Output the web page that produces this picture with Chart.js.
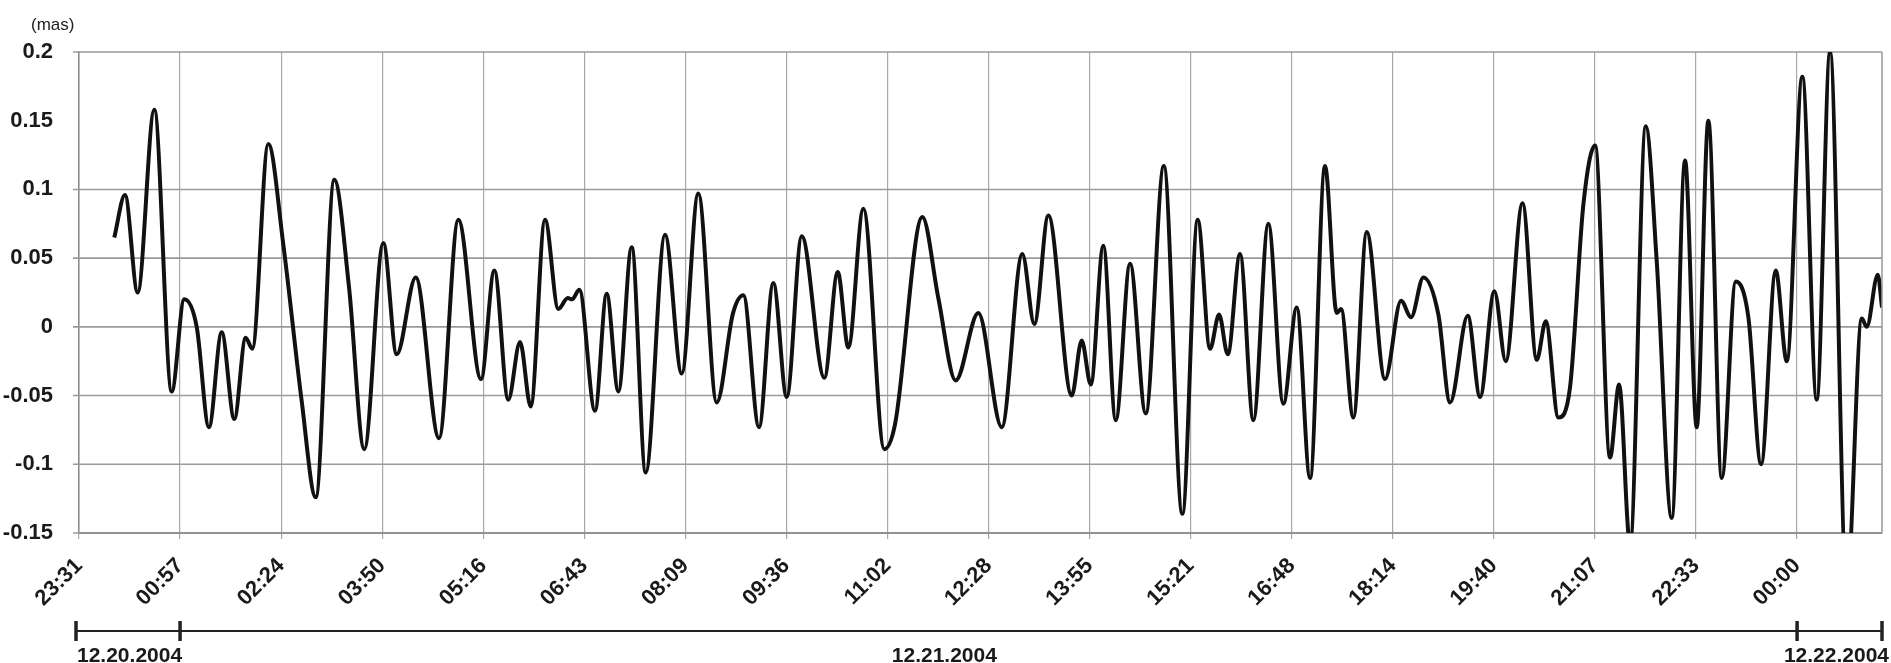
<!DOCTYPE html>
<html>
<head>
<meta charset="utf-8">
<script src="https://cdn.jsdelivr.net/npm/chart.js@4.4.1/dist/chart.umd.min.js"></script>
<style>
  html, body { margin: 0; padding: 0; background: #fff; }
  #wrap { width: 1891px; height: 663px; position: relative; }
</style>
</head>
<body>
<div id="wrap"><canvas id="polarChart"></canvas></div>
<script>
// hours since 23:31 on 12.20.2004 (one tick = 1.44 h)
const times = [
  0.503, 0.655, 0.836, 1.073, 1.321, 1.500, 1.677, 1.852, 2.033, 2.213,
  2.375, 2.469, 2.697, 2.911, 3.173, 3.373, 3.638, 3.847, 4.065, 4.336,
  4.527, 4.798, 5.130, 5.405, 5.728, 5.918, 6.117, 6.284, 6.436, 6.640,
  6.830, 6.964, 7.025, 7.129, 7.352, 7.519, 7.685, 7.875, 8.075, 8.350,
  8.588, 8.824, 9.087, 9.319, 9.466, 9.689, 9.893, 10.084, 10.298, 10.620,
  10.811, 10.962, 11.176, 11.475, 11.627, 12.016, 12.244, 12.492, 12.814, 13.148,
  13.441, 13.612, 13.812, 14.145, 14.287, 14.416, 14.595, 14.772, 14.976, 15.199,
  15.457, 15.721, 15.940, 16.116, 16.244, 16.368, 16.543, 16.733, 16.946, 17.160,
  17.351, 17.541, 17.754, 17.921, 17.982, 18.158, 18.348, 18.609, 18.837, 18.980,
  19.155, 19.369, 19.536, 19.788, 19.963, 20.167, 20.329, 20.568, 20.771, 20.899,
  21.079, 21.245, 21.435, 21.602, 21.815, 21.944, 22.100, 22.324, 22.480, 22.694,
  22.884, 23.050, 23.216, 23.407, 23.606, 23.786, 23.967, 24.176, 24.333, 24.555,
  24.760, 24.950, 25.188, 25.402, 25.473, 25.630, 25.690
];

// (mas)
const values = [
  0.065, 0.096, 0.025, 0.158, -0.047, 0.020, 0.000, -0.073, -0.004, -0.067,
  -0.008, -0.016, 0.133, 0.060, -0.054, -0.124, 0.107, 0.029, -0.089, 0.061,
  -0.020, 0.036, -0.081, 0.078, -0.038, 0.041, -0.053, -0.011, -0.058, 0.078,
  0.013, 0.021, 0.020, 0.027, -0.061, 0.024, -0.047, 0.058, -0.106, 0.067,
  -0.034, 0.097, -0.055, 0.010, 0.023, -0.073, 0.032, -0.051, 0.066, -0.037,
  0.040, -0.015, 0.086, -0.089, -0.071, 0.080, 0.021, -0.039, 0.010, -0.073,
  0.053, 0.002, 0.081, -0.050, -0.010, -0.042, 0.059, -0.068, 0.046, -0.063,
  0.117, -0.136, 0.078, -0.016, 0.009, -0.020, 0.053, -0.068, 0.075, -0.056,
  0.014, -0.110, 0.117, 0.010, 0.013, -0.066, 0.069, -0.038, 0.019, 0.007,
  0.036, 0.009, -0.055, 0.008, -0.051, 0.026, -0.025, 0.090, -0.024, 0.004,
  -0.066, -0.044, 0.089, 0.132, -0.095, -0.042, -0.158, 0.146, 0.048, -0.139,
  0.121, -0.073, 0.150, -0.110, 0.033, 0.007, -0.100, 0.041, -0.025, 0.182,
  -0.053, 0.200, -0.190, 0.006, 0.000, 0.038, 0.014
];

const timeLabels = ['23:31', '00:57', '02:24', '03:50', '05:16', '06:43', '08:09', '09:36', '11:02',
  '12:28', '13:55', '15:21', '16:48', '18:14', '19:40', '21:07', '22:33', '00:00'];
const tickStep = 1.44;
const xMax = 25.69;

const yTicks = [-0.15, -0.1, -0.05, 0, 0.05, 0.1, 0.15, 0.2];
const yTickLabels = ['-0.15', '-0.1', '-0.05', '0', '0.05', '0.1', '0.15', '0.2'];
// the source draws no grid line at 0.15
const yGridValues = [-0.15, -0.1, -0.05, 0, 0.05, 0.1, 0.2];

const dateLabels = ['12.20.2004', '12.21.2004', '12.22.2004'];

const FONT = "'Liberation Sans', Arial, sans-serif";

// horizontal grid, drawn under the curve
const hGrid = {
  id: 'hGrid',
  beforeDatasetsDraw(chart) {
    const { ctx, chartArea } = chart;
    const ys = chart.scales.y;
    ctx.save();
    ctx.strokeStyle = '#9a9a9a';
    ctx.lineWidth = 1.6;
    yGridValues.forEach(v => {
      const py = ys.getPixelForValue(v);
      ctx.beginPath();
      ctx.moveTo(chartArea.left - 6, py);
      ctx.lineTo(chartArea.right, py);
      ctx.stroke();
    });
    ctx.restore();
  }
};

// unit label, right frame edge and the date bar under the time axis
const extras = {
  id: 'extras',
  afterDraw(chart) {
    const { ctx, chartArea } = chart;
    const xs = chart.scales.x;
    ctx.save();

    ctx.strokeStyle = '#999';
    ctx.lineWidth = 1.5;
    ctx.beginPath();
    ctx.moveTo(chartArea.right, chartArea.top);
    ctx.lineTo(chartArea.right, chartArea.bottom);
    ctx.stroke();

    ctx.fillStyle = '#222';
    ctx.font = '17px ' + FONT;
    ctx.textAlign = 'left';
    ctx.textBaseline = 'middle';
    ctx.fillText('(mas)', 31, 25);

    const y = 631;
    const caps = [xs.getPixelForValue(0), xs.getPixelForValue(tickStep),
      xs.getPixelForValue(tickStep * 17), chartArea.right];
    ctx.strokeStyle = '#222';
    ctx.lineWidth = 2;
    ctx.beginPath();
    ctx.moveTo(caps[0] - 3, y);
    ctx.lineTo(caps[3], y);
    ctx.stroke();
    ctx.lineWidth = 3.5;
    caps.forEach((c, i) => {
      const cx = i === 0 ? c - 3 : c;
      ctx.beginPath();
      ctx.moveTo(cx, y - 10);
      ctx.lineTo(cx, y + 10);
      ctx.stroke();
    });

    ctx.font = 'bold 21px ' + FONT;
    ctx.fillStyle = '#1a1a1a';
    ctx.textBaseline = 'middle';
    ctx.textAlign = 'left';
    ctx.fillText(dateLabels[0], caps[0] - 2, 656);
    ctx.textAlign = 'center';
    ctx.fillText(dateLabels[1], xs.getPixelForValue(12.33), 656);
    ctx.textAlign = 'right';
    ctx.fillText(dateLabels[2], caps[3] + 7, 656);
    ctx.restore();
  }
};

new Chart(document.getElementById('polarChart').getContext('2d'), {
  type: 'line',
  data: {
    datasets: [{
      data: times.map((t, i) => ({ x: t, y: values[i] })),
      borderColor: '#111',
      borderWidth: 4,
      pointRadius: 0,
      cubicInterpolationMode: 'monotone',
      fill: false,
      clip: 0
    }]
  },
  options: {
    responsive: true,
    maintainAspectRatio: false,
    animation: false,
    layout: { padding: { top: 52, right: 9, left: 0, bottom: 0 } },
    plugins: { legend: { display: false }, tooltip: { enabled: false } },
    scales: {
      x: {
        type: 'linear',
        min: 0,
        max: xMax,
        afterBuildTicks: s => { s.ticks = timeLabels.map((_, i) => ({ value: i * tickStep })); },
        afterFit: s => { s.height = 130; },
        ticks: {
          autoSkip: false,
          minRotation: 45,
          maxRotation: 45,
          padding: 14,
          color: '#1a1a1a',
          font: { family: FONT, size: 22, weight: 'bold' },
          callback: (v, i) => timeLabels[i]
        },
        grid: { color: '#a8a8a8', lineWidth: 1.2, tickLength: 6 },
        border: { color: '#777', width: 2 }
      },
      y: {
        min: -0.15,
        max: 0.2,
        afterBuildTicks: s => { s.ticks = yTicks.map(v => ({ value: v })); },
        afterFit: s => { s.width = 79; },
        ticks: {
          autoSkip: false,
          padding: 18,
          color: '#1a1a1a',
          font: { family: FONT, size: 22, weight: 'bold' },
          callback: (v, i) => yTickLabels[i]
        },
        grid: { display: false },
        border: { display: true, color: '#8a8a8a', width: 1.5 }
      }
    }
  },
  plugins: [hGrid, extras]
});
</script>
</body>
</html>
